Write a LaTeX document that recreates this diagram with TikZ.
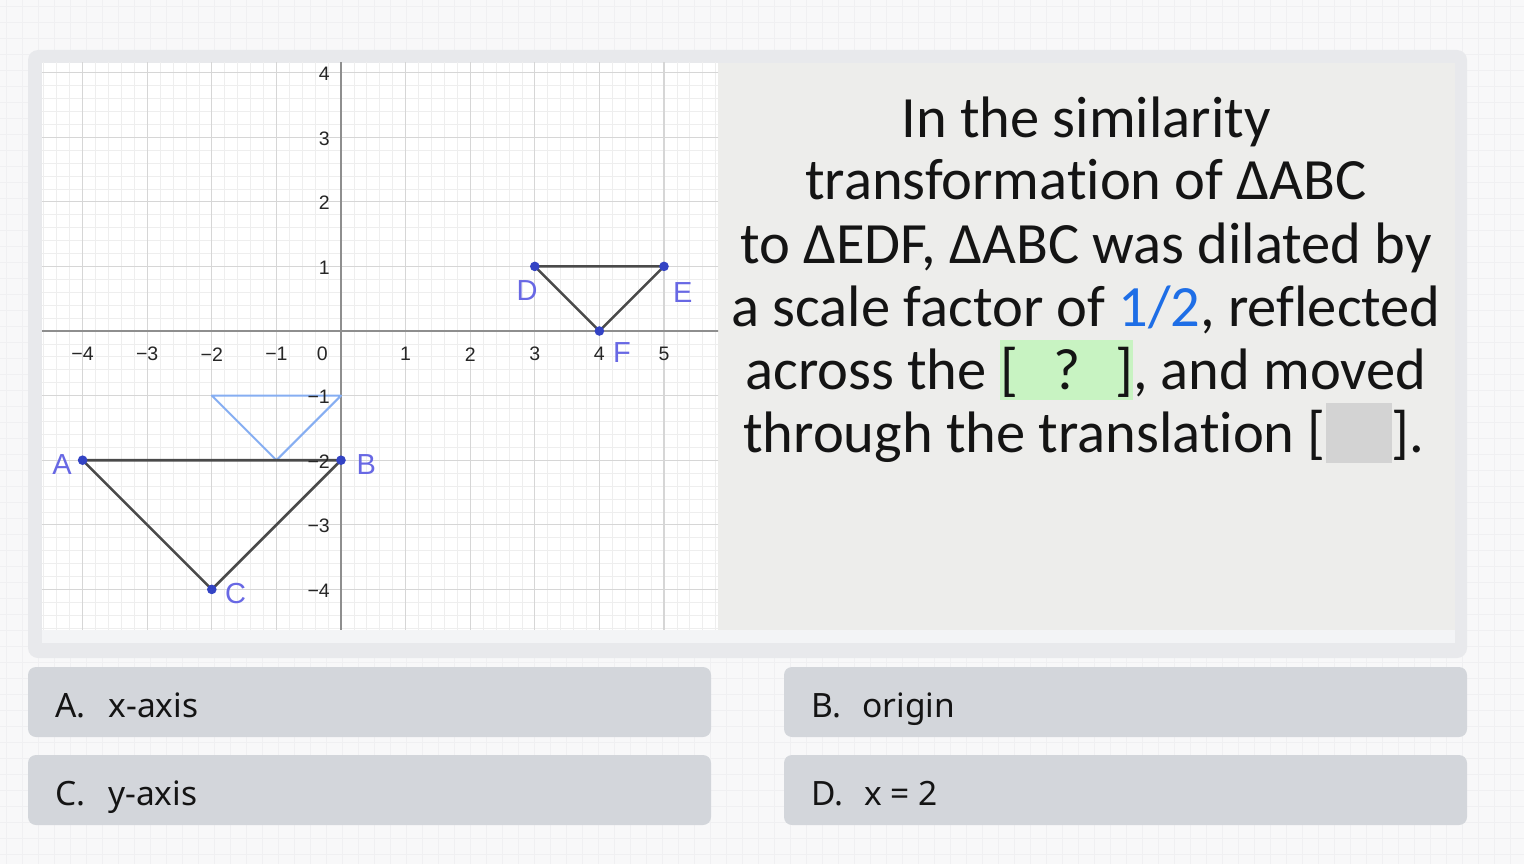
\documentclass[tikz,border=0pt]{standalone}
\usepackage{fontspec}
\setmainfont{Carlito}[Ligatures={NoCommon,NoDiscretionary,NoRare,NoContextual}]
\newfontfamily\btnfont{Noto Sans}
\newfontfamily\axfont{Liberation Sans}
\definecolor{pagebg}{HTML}{F8F8F9}
\definecolor{pagegrid}{HTML}{F0F0F2}
\definecolor{panelc}{HTML}{E8E9EC}
\definecolor{stripc}{HTML}{F3F4F6}
\definecolor{textbg}{HTML}{EDEDEB}
\definecolor{btnc}{HTML}{D3D6DB}
\definecolor{minorc}{HTML}{EEEEEE}
\definecolor{majorc}{HTML}{D6D6D6}
\definecolor{axisc}{HTML}{8E8E8E}
\definecolor{tickc}{HTML}{262626}
\definecolor{tric}{HTML}{4A4A4A}
\definecolor{lighttri}{HTML}{86AEF2}
\definecolor{ptc}{HTML}{3343C4}
\definecolor{lblc}{HTML}{6868E4}
\definecolor{qblue}{HTML}{1E6EE6}
\definecolor{hlgreen}{HTML}{C8F3C2}
\definecolor{hlgray}{HTML}{D3D3D3}
\definecolor{txtc}{HTML}{141414}
\tikzset{
  minorline/.style={draw=minorc, line width=0.7pt},
  majorline/.style={draw=majorc, line width=1.1pt},
  axisline/.style={draw=axisc, line width=2pt},
  ticklbl/.style={font=\axfont\fontsize{19.5}{20}\selectfont, text=tickc, inner sep=0pt},
  trisides/.style={draw=tric, line width=2.6pt, line join=round},
  smalltri/.style={draw=lighttri, line width=2pt, line join=round},
  ptlbl/.style={font=\axfont\fontsize{29}{29}\selectfont, text=lblc, inner sep=0pt},
  qline/.style={font=\fontsize{58.5}{63}\selectfont, text=txtc, inner sep=0pt, anchor=base},
  btnbox/.style={fill=btnc, rounded corners=8pt},
  btntxt/.style={font=\btnfont\fontsize{33.5}{36}\selectfont, text=txtc, inner sep=0pt, anchor=base west},
}
\begin{document}
\begin{tikzpicture}[x=1pt,y=-1pt]
\useasboundingbox (0,0) rectangle (1524,864);
\fill[pagebg] (0,0) rectangle (1524,864);
\foreach \g in {6,22,...,1524} \draw[pagegrid, line width=0.6pt] (\g,0) -- (\g,864);
\foreach \g in {6,22,...,864} \draw[pagegrid, line width=0.6pt] (0,\g) -- (1524,\g);
% panel
\fill[panelc, rounded corners=10pt] (28,50) rectangle (1467,658);
\fill[stripc] (42,63) rectangle (1455,643);
\fill[textbg] (718,63) rectangle (1455,630);
\fill[white] (42,63) rectangle (718,630);
% graph
\begin{scope}[shift={(341pt,-331pt)}, x=64.6pt, y=64.6pt]
  \begin{scope}
    \clip (-4.628,-4.628) rectangle (5.836,4.149);
    \foreach \i in {-25,...,30} \draw[minorline] (\i/5,-5) -- (\i/5,5);
    \foreach \i in {-25,...,25} \draw[minorline] (-5,\i/5) -- (6,\i/5);
    \foreach \i in {-5,...,6} \draw[majorline] (\i,-5) -- (\i,5);
    \foreach \i in {-5,...,5} \draw[majorline] (-5,\i) -- (6,\i);
    \draw[axisline] (-5,0) -- (6,0);
    \draw[axisline] (0,-5) -- (0,5);
  \end{scope}
  % vertices
  \coordinate (A) at (-4,-2);
  \coordinate (B) at (0,-2);
  \coordinate (C) at (-2,-4);
  \coordinate (D) at (3,1);
  \coordinate (E) at (5,1);
  \coordinate (F) at (4,0);
  \coordinate (P) at (-2,-1);
  \coordinate (Q) at (0,-1);
  \coordinate (R) at (-1,-2);
  \draw[smalltri] (P) -- (Q) -- (R) -- cycle;
  \draw[trisides] (A) -- (B) -- (C) -- cycle;
  \draw[trisides] (D) -- (E) -- (F) -- cycle;
  % tick labels
  \foreach \v/\t in {-4/−4,-3/−3,-2/−2,-1/−1,1/1,2/2,3/3,4/4,5/5}
    \node[ticklbl] (xt\v) at (\v,-0.36) {\t};
  \node[ticklbl] (xt0) at (-0.29,-0.36) {0};
  \foreach \v/\t in {4/4,3/3,2/2,1/1,-1/−1,-2/−2,-3/−3,-4/−4}
    \node[ticklbl, anchor=east] (yt\v) at (-0.17,\v-0.02) {\t};
  % points
  \foreach \p in {A,B,C,D,E,F} \fill[ptc] (\p) circle (4.8pt);
  \node[ptlbl] (lA) at (-4.32,-2.07) {A};
  \node[ptlbl] (lB) at (0.39,-2.07) {B};
  \node[ptlbl] (lC) at (-1.63,-4.06) {C};
  \node[ptlbl] (lD) at (2.88,0.63) {D};
  \node[ptlbl] (lE) at (5.29,0.60) {E};
  \node[ptlbl] (lF) at (4.35,-0.33) {F};
\end{scope}
% question text
\setlength{\fboxsep}{0pt}
\node[qline] (l1) at (1086,138) {In the similarity};
\node[qline] (l2) at (1086,200) {transformation of ΔABC};
\node[qline] (l3) at (1086,263) {to ΔEDF, ΔABC was dilated by};
\node[qline] (l4) at (1086,326) {a scale factor of \textcolor{qblue}{1/2}, reflected};
\node[qline] (l5) at (1086,389) {across the \colorbox{hlgreen}{\rule[-11pt]{0pt}{60pt}[\hspace{35pt}?\hspace{35pt}]}, and moved};
\node[qline] (l6) at (1084,452) {through the translation [\colorbox{hlgray}{\rule[-11pt]{0pt}{60pt}\hspace{66pt}}].};
% answer buttons
\fill[btnbox] (28,667) rectangle (711,737);
\fill[btnbox] (28,755) rectangle (711,825);
\fill[btnbox] (784,667) rectangle (1467,737);
\fill[btnbox] (784,755) rectangle (1467,825);
\node[btntxt] (ansA) at (55,717) {A.\hspace{23pt}x-axis};
\node[btntxt] (ansC) at (55,805) {C.\hspace{23pt}y-axis};
\node[btntxt] (ansB) at (811,717) {B.\hspace{21pt}origin};
\node[btntxt] (ansD) at (811,805) {D.\hspace{21pt}x = 2};
\end{tikzpicture}
\end{document}
